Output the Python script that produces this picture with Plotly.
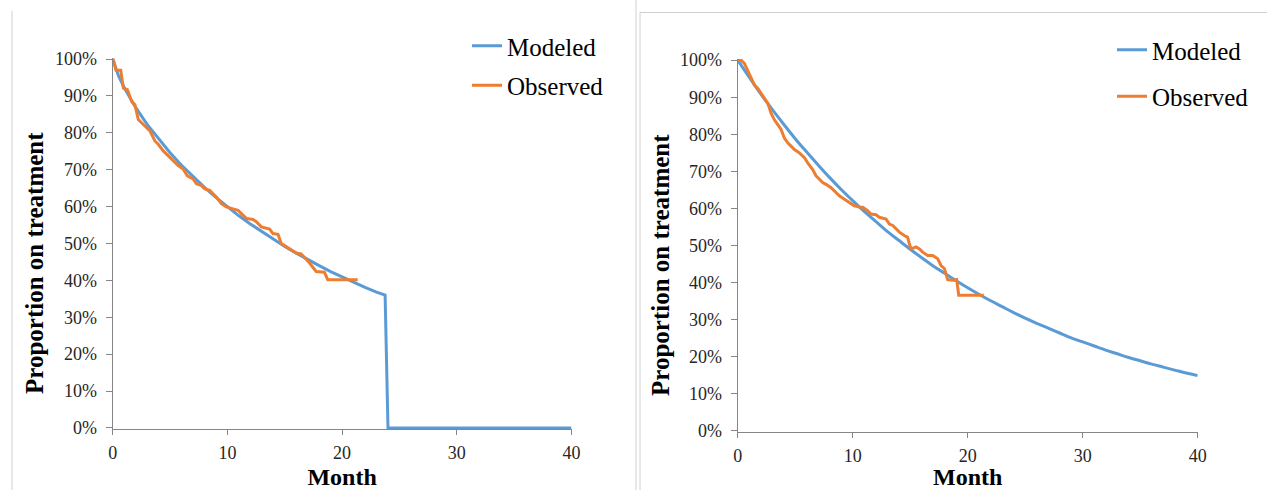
import plotly.graph_objects as go

# ---------------- data ----------------
# Left panel: modeled (drops to 0 at ~24 months) and observed
left_model_month = [0, 0.5, 1, 2, 3, 4, 5, 6, 7, 8, 9, 10, 11, 12, 13, 14, 15, 16,
                    17, 18, 19, 20, 21, 22, 23, 23.75, 24.0, 40]
left_model_prop = [1.000, 0.955, 0.923, 0.869, 0.823, 0.783, 0.746, 0.712, 0.681,
                   0.652, 0.625, 0.599, 0.575, 0.553, 0.532, 0.511, 0.492, 0.474,
                   0.456, 0.440, 0.424, 0.409, 0.395, 0.381, 0.368, 0.360, 0.0, 0.0]

left_obs_month = [0.0, 0.06, 0.29, 0.70, 0.93, 1.28, 1.65, 1.94, 2.23, 2.52, 2.96, 3.25,
                  3.68, 3.97, 4.41, 4.99, 5.71, 6.14, 6.49, 6.72, 7.01, 7.30, 7.74,
                  8.03, 8.46, 8.75, 9.04, 9.48, 9.91, 10.49, 10.93, 11.22, 11.65,
                  12.23, 12.52, 12.96, 13.39, 13.68, 13.97, 14.41, 14.70, 15.13,
                  15.57, 16.00, 16.43, 16.87, 17.16, 17.74, 18.17, 18.46, 18.75,
                  19.77, 21.36]
left_obs_prop = [1.000, 0.997, 0.970, 0.970, 0.921, 0.917, 0.885, 0.876, 0.836, 0.827,
                 0.814, 0.805, 0.778, 0.769, 0.751, 0.733, 0.711, 0.702, 0.684, 0.680,
                 0.675, 0.662, 0.657, 0.648, 0.644, 0.635, 0.626, 0.608, 0.599, 0.594,
                 0.590, 0.581, 0.568, 0.565, 0.559, 0.545, 0.541, 0.539, 0.527, 0.525,
                 0.500, 0.491, 0.483, 0.474, 0.472, 0.457, 0.447, 0.424, 0.422, 0.422,
                 0.402, 0.402, 0.402]

# Right panel: modeled and observed
right_model_month = list(range(0, 41))
right_model_prop = [1.000, 0.954, 0.909, 0.867, 0.827, 0.788, 0.752, 0.717, 0.683,
                    0.651, 0.621, 0.592, 0.565, 0.538, 0.514, 0.490, 0.467, 0.445,
                    0.425, 0.405, 0.386, 0.368, 0.351, 0.335, 0.319, 0.304, 0.290,
                    0.277, 0.264, 0.251, 0.240, 0.229, 0.218, 0.208, 0.198, 0.189,
                    0.180, 0.172, 0.164, 0.156, 0.149]

right_obs_month = [0.0, 0.29, 0.58, 0.87, 1.16, 1.45, 1.74, 2.03, 2.32, 2.61, 2.90,
                   3.19, 3.48, 3.77, 4.06, 4.35, 4.64, 4.93, 5.36, 5.80, 6.09, 6.52,
                   6.81, 7.10, 7.39, 7.68, 8.12, 8.41, 8.84, 9.28, 9.71, 10.14, 10.58,
                   10.87, 11.30, 11.59, 12.03, 12.32, 12.90, 13.19, 13.48, 13.77,
                   14.06, 14.49, 14.78, 14.93, 15.07, 15.51, 15.80, 16.09, 16.52,
                   16.96, 17.39, 17.68, 17.97, 18.26, 18.70, 19.04, 19.22, 20.43, 21.40]
right_obs_prop = [1.000, 1.000, 0.991, 0.973, 0.955, 0.933, 0.924, 0.911, 0.897, 0.884,
                  0.857, 0.839, 0.826, 0.813, 0.790, 0.777, 0.768, 0.759, 0.750, 0.737,
                  0.723, 0.705, 0.688, 0.679, 0.670, 0.665, 0.656, 0.647, 0.634, 0.625,
                  0.616, 0.607, 0.604, 0.603, 0.594, 0.585, 0.583, 0.576, 0.571, 0.558,
                  0.554, 0.545, 0.536, 0.527, 0.522, 0.504, 0.491, 0.496, 0.491, 0.482,
                  0.473, 0.473, 0.464, 0.446, 0.438, 0.408, 0.406, 0.408, 0.366, 0.366,
                  0.366]

x_ticks = [0, 10, 20, 30, 40]
y_ticks = [0, 0.1, 0.2, 0.3, 0.4, 0.5, 0.6, 0.7, 0.8, 0.9, 1.0]
y_ticklabels = ["0%", "10%", "20%", "30%", "40%", "50%", "60%", "70%", "80%", "90%", "100%"]
series_names = ["Modeled", "Observed"]

BLUE = "#5B9BD5"
ORANGE = "#ED7D31"
AXIS = "#868686"
SERIF = "Liberation Serif"
W, H = 1267, 490

fig = go.Figure()

fig.add_trace(go.Scatter(x=left_model_month, y=left_model_prop, mode="lines",
                         name=series_names[0], line=dict(color=BLUE, width=3),
                         xaxis="x", yaxis="y", legend="legend", legendgroup="lm"))
fig.add_trace(go.Scatter(x=left_obs_month, y=left_obs_prop, mode="lines",
                         name=series_names[1], line=dict(color=ORANGE, width=3),
                         xaxis="x", yaxis="y", legend="legend", legendgroup="lo"))
fig.add_trace(go.Scatter(x=right_model_month, y=right_model_prop, mode="lines",
                         name=series_names[0],
                         line=dict(color=BLUE, width=3, shape="spline", smoothing=1),
                         xaxis="x2", yaxis="y2", legend="legend2", legendgroup="rm"))
fig.add_trace(go.Scatter(x=right_obs_month, y=right_obs_prop, mode="lines",
                         name=series_names[1], line=dict(color=ORANGE, width=3),
                         xaxis="x2", yaxis="y2", legend="legend2", legendgroup="ro"))


def px_x(p):
    return p / W


def px_y(p):
    return 1 - p / H


xaxis_common = dict(range=[0, 40], tickvals=x_ticks, showgrid=False, zeroline=False,
                    showline=True, linecolor=AXIS, linewidth=1, ticks="outside",
                    ticklen=5, tickcolor=AXIS, automargin=False, ticklabelstandoff=2,
                    tickfont=dict(family=SERIF, size=18, color="#262626"),
                    title=dict(text="<b>Month</b>", standoff=9,
                               font=dict(family=SERIF, size=24, color="#000")))
yaxis_common = dict(range=[-0.003, 1.003], tickvals=y_ticks, ticktext=y_ticklabels,
                    showgrid=False, zeroline=False, showline=True, linecolor=AXIS,
                    linewidth=1, ticks="outside", ticklen=6, tickcolor=AXIS,
                    automargin=False, ticklabelstandoff=5,
                    tickfont=dict(family=SERIF, size=18, color="#262626"))

fig.update_layout(
    width=W, height=H,
    margin=dict(l=0, r=0, t=0, b=0, autoexpand=False),
    paper_bgcolor="white", plot_bgcolor="white",
    font=dict(family=SERIF),
    xaxis=dict(domain=[px_x(112.7), px_x(571.5)], anchor="y", **xaxis_common),
    yaxis=dict(domain=[px_y(429), px_y(58)], anchor="x", **yaxis_common),
    xaxis2=dict(domain=[px_x(737.7), px_x(1197.7)], anchor="y2", **xaxis_common),
    yaxis2=dict(domain=[px_y(432), px_y(59)], anchor="x2", **yaxis_common),
    legend=dict(x=px_x(467), y=px_y(23), xanchor="left", yanchor="top",
                bgcolor="rgba(0,0,0,0)", tracegroupgap=4,
                font=dict(family=SERIF, size=25, color="#000")),
    legend2=dict(x=px_x(1112), y=px_y(27), xanchor="left", yanchor="top",
                 bgcolor="rgba(0,0,0,0)", tracegroupgap=11,
                 font=dict(family=SERIF, size=25, color="#000")),
    annotations=[
        dict(text="<b>Proportion on treatment</b>", x=px_x(34), y=px_y(263),
             xref="paper", yref="paper", textangle=-90, showarrow=False,
             xanchor="center", yanchor="middle",
             font=dict(family=SERIF, size=25, color="#000")),
        dict(text="<b>Proportion on treatment</b>", x=px_x(660), y=px_y(265),
             xref="paper", yref="paper", textangle=-90, showarrow=False,
             xanchor="center", yanchor="middle",
             font=dict(family=SERIF, size=25, color="#000")),
    ],
    shapes=[
        dict(type="line", xref="paper", yref="paper", x0=px_x(12), x1=px_x(12),
             y0=px_y(11), y1=0, line=dict(color="#D0D0D0", width=1)),
        dict(type="line", xref="paper", yref="paper", x0=px_x(636), x1=px_x(636),
             y0=1, y1=0, line=dict(color="#D0D0D0", width=1)),
        dict(type="line", xref="paper", yref="paper", x0=px_x(640), x1=px_x(640),
             y0=px_y(12.5), y1=0, line=dict(color="#D0D0D0", width=1)),
        dict(type="line", xref="paper", yref="paper", x0=px_x(640), x1=1,
             y0=px_y(12.5), y1=px_y(12.5), line=dict(color="#D0D0D0", width=1)),
    ],
)

fig.write_html("out.html")
